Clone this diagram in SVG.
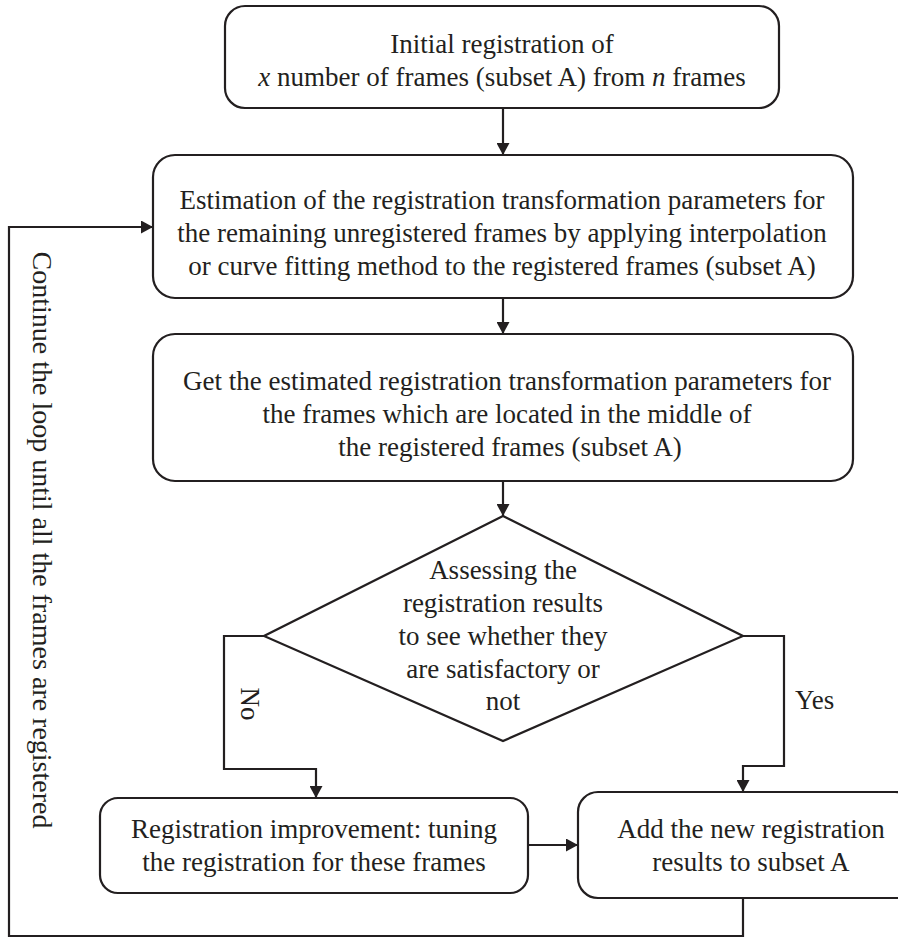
<svg xmlns="http://www.w3.org/2000/svg" width="898" height="938" viewBox="0 0 898 938">
<style>
.box{fill:#ffffff;stroke:#231f20;stroke-width:2.2}
.ln{fill:none;stroke:#231f20;stroke-width:2.2}
text{font-family:"Liberation Serif","Times New Roman",serif;font-size:27px;fill:#231f20}
.c{text-anchor:middle}
.big{font-size:28px}
</style>
<defs>
<marker id="ah" markerUnits="userSpaceOnUse" markerWidth="13" markerHeight="13" refX="12" refY="6.5" orient="auto">
<path d="M0,0 L12,6.5 L0,13 z" fill="#231f20"/>
</marker>
</defs>
<rect width="898" height="938" fill="#ffffff"/>
<g id="connectors">
<path class="ln" d="M503,108 V155" marker-end="url(#ah)"/>
<path class="ln" d="M503,298 V334" marker-end="url(#ah)"/>
<path class="ln" d="M503,481 V516" marker-end="url(#ah)"/>
<path class="ln" d="M264,636 H224 V769 H316 V798" marker-end="url(#ah)"/>
<path class="ln" d="M743,636 H784 V766 H743 V792" marker-end="url(#ah)"/>
<path class="ln" d="M528,845 H578" marker-end="url(#ah)"/>
<path class="ln" d="M743,898 V936 H9 V227 H153" marker-end="url(#ah)"/>
<text transform="translate(241,704) rotate(90)" class="c">No</text>
<text x="795" y="709">Yes</text>
<text transform="translate(33,540) rotate(90)" class="c big">Continue the loop until all the frames are registered</text>
</g>
<g id="n1">
<rect class="box" x="225" y="6" width="554" height="102" rx="20"/>
<text class="c" x="502" y="53">Initial registration of</text>
<text class="c" x="502" y="86"><tspan font-style="italic">x</tspan> number of frames (subset A) from <tspan font-style="italic">n</tspan> frames</text>
</g>
<g id="n2">
<rect class="box" x="153" y="155" width="700" height="143" rx="22"/>
<text class="c" x="502" y="209">Estimation of the registration transformation parameters for</text>
<text class="c" x="502" y="242">the remaining unregistered frames by applying interpolation</text>
<text class="c" x="502" y="275">or curve fitting method to the registered frames (subset A)</text>
</g>
<g id="n3">
<rect class="box" x="153" y="334" width="700" height="147" rx="22"/>
<text class="c" x="507" y="390">Get the estimated registration transformation parameters for</text>
<text class="c" x="507" y="423">the frames which are located in the middle of</text>
<text class="c" x="510" y="456">the registered frames (subset A)</text>
</g>
<g id="n4">
<path class="box" d="M503,516 L743,636 L503,741 L264,636 Z"/>
<text class="c" x="503" y="579">Assessing the</text>
<text class="c" x="503" y="612">registration results</text>
<text class="c" x="503" y="645">to see whether they</text>
<text class="c" x="503" y="678">are satisfactory or</text>
<text class="c" x="503" y="710">not</text>
</g>
<g id="n5">
<rect class="box" x="100" y="798" width="428" height="95" rx="18"/>
<text class="c" x="314" y="838">Registration improvement: tuning</text>
<text class="c" x="314" y="871">the registration for these frames</text>
</g>
<g id="n6">
<rect class="box" x="578" y="792" width="337" height="106" rx="20"/>
<text class="c" x="751" y="838">Add the new registration</text>
<text class="c" x="751" y="871">results to subset A</text>
</g>
</svg>
